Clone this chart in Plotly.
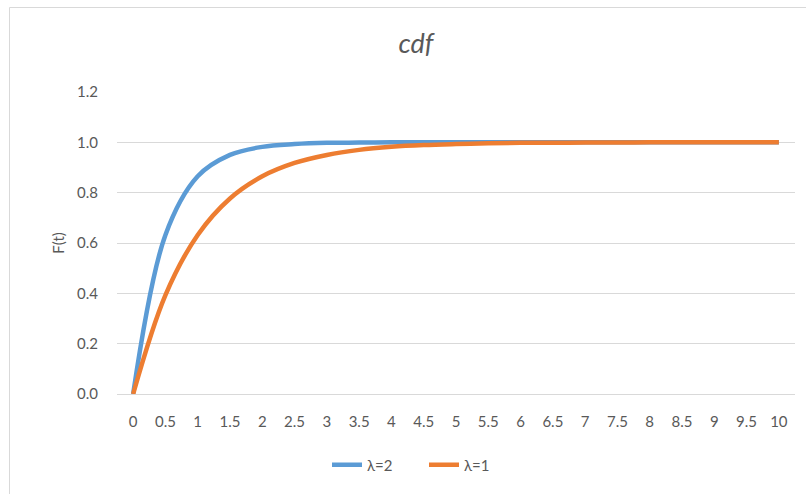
import plotly.graph_objects as go

# Time points (category labels on the horizontal axis)
t_values = [0, 0.5, 1, 1.5, 2, 2.5, 3, 3.5, 4, 4.5, 5,
            5.5, 6, 6.5, 7, 7.5, 8, 8.5, 9, 9.5, 10]
t_labels = ["0", "0.5", "1", "1.5", "2", "2.5", "3", "3.5", "4", "4.5", "5",
            "5.5", "6", "6.5", "7", "7.5", "8", "8.5", "9", "9.5", "10"]

# Cumulative distribution values F(t) for the two rates
cdf_lambda2 = [0.000, 0.632, 0.865, 0.950, 0.982, 0.993, 0.998, 0.999, 1.000, 1.000, 1.000,
               1.000, 1.000, 1.000, 1.000, 1.000, 1.000, 1.000, 1.000, 1.000, 1.000]
cdf_lambda1 = [0.000, 0.393, 0.632, 0.777, 0.865, 0.918, 0.950, 0.970, 0.982, 0.989, 0.993,
               0.996, 0.998, 0.998, 0.999, 0.999, 1.000, 1.000, 1.000, 1.000, 1.000]

y_ticks = [0, 0.2, 0.4, 0.6, 0.8, 1.0, 1.2]

BLUE = "#5B9BD5"
ORANGE = "#ED7D31"
GRID = "#D9D9D9"
TEXT = "#595959"
FONT = "Lato, Open Sans, sans-serif"

W, H = 806, 494
L, R, T, B = 117, 11, 92, 100

fig = go.Figure()
fig.add_trace(go.Scatter(x=t_values, y=cdf_lambda2, name="λ=2", mode="lines",
                         line=dict(color=BLUE, width=4.5, shape="spline")))
fig.add_trace(go.Scatter(x=t_values, y=cdf_lambda1, name="λ=1", mode="lines",
                         line=dict(color=ORANGE, width=4.5, shape="spline")))

pw, ph = W - L - R, H - T - B


def px_x(p):
    return (p - L) / pw


def px_y(p):
    return (H - B - p) / ph


# Light chart-area frame
fig.add_shape(type="rect", xref="paper", yref="paper",
              x0=px_x(9.5), x1=px_x(830), y0=px_y(7.5), y1=px_y(520),
              line=dict(color=GRID, width=1), fillcolor="rgba(0,0,0,0)", layer="below")

fig.update_layout(
    width=W, height=H,
    margin=dict(l=L, r=R, t=T, b=B),
    paper_bgcolor="white", plot_bgcolor="white",
    font=dict(family=FONT, size=15, color=TEXT),
    title=dict(text="cdf", x=416 / W, xref="container", xanchor="center",
               y=1 - 44 / H, yref="container", yanchor="middle",
               font=dict(family=FONT, size=27, color=TEXT, style="italic")),
    showlegend=True,
    legend=dict(orientation="h", x=px_x(327), y=px_y(465), xanchor="left", yanchor="middle",
                font=dict(family=FONT, size=15, color=TEXT),
                bgcolor="rgba(0,0,0,0)", entrywidth=52, entrywidthmode="pixels"),
    xaxis=dict(range=[-0.25, 10.25], tickvals=t_values, ticktext=t_labels,
               showgrid=False, zeroline=False, showline=True, linecolor=GRID, linewidth=1,
               ticks="", ticklabelstandoff=14, tickfont=dict(size=15, color=TEXT)),
    yaxis=dict(range=[0, 1.2], tickvals=y_ticks, tickformat=".1f",
               showgrid=True, gridcolor=GRID, gridwidth=1, zeroline=False, showline=False,
               ticks="", ticklabelstandoff=18, tickfont=dict(size=15, color=TEXT),
               title=dict(text="F(t)", standoff=8, font=dict(size=15, color=TEXT))),
)

fig.write_html("out.html")
